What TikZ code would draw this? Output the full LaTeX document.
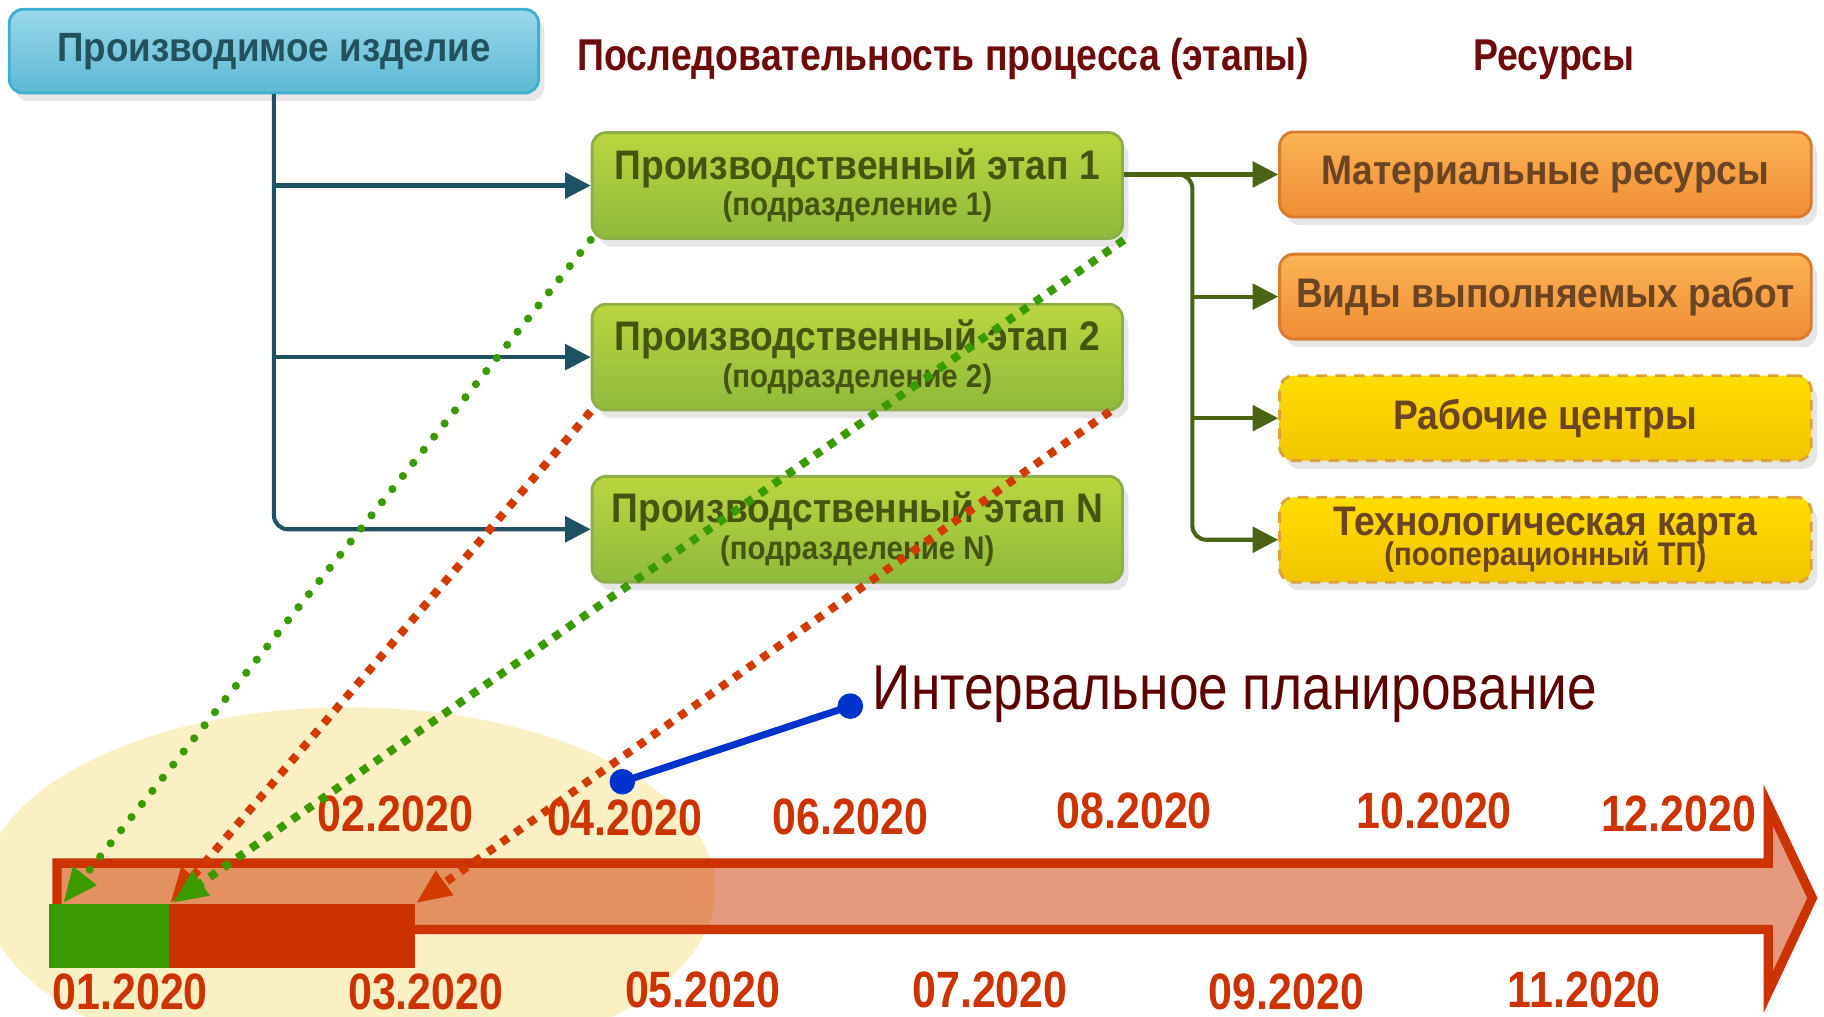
\documentclass[tikz,border=0pt]{standalone}
\usepackage{fontspec}
\setmainfont{Liberation Sans}
\newfontfamily\narrowfont{Liberation Sans}[FakeStretch=0.84]
\newfontfamily\boxfont{Liberation Sans}[FakeStretch=0.9]
\usetikzlibrary{positioning, arrows.meta, shadows}

\definecolor{prodtop}{HTML}{9AD8EA}
\definecolor{prodbot}{HTML}{5DB8D5}
\definecolor{prodline}{HTML}{3FAFCF}
\definecolor{prodtext}{HTML}{23525F}
\definecolor{sttop}{HTML}{BAD63E}
\definecolor{stbot}{HTML}{8FBA3C}
\definecolor{stline}{HTML}{8DAE48}
\definecolor{sttext}{HTML}{45540F}
\definecolor{restop}{HTML}{FBB454}
\definecolor{resbot}{HTML}{F08C34}
\definecolor{resline}{HTML}{D97A2C}
\definecolor{restext}{HTML}{6B4423}
\definecolor{wctop}{HTML}{FFDD00}
\definecolor{wcbot}{HTML}{F2C500}
\definecolor{wcline}{HTML}{D9A23A}
\definecolor{tealline}{HTML}{1E5163}
\definecolor{oliveline}{HTML}{4A6415}
\definecolor{headred}{HTML}{6E0A0A}
\definecolor{datered}{HTML}{CC3300}
\definecolor{planred}{HTML}{5E0000}
\definecolor{ellfill}{HTML}{FBF0C3}
\definecolor{bargreen}{HTML}{3A9A00}
\definecolor{barred}{HTML}{CC3300}
\definecolor{dotred}{HTML}{D23A00}
\definecolor{bluedot}{HTML}{0033CC}

\begin{document}
\begin{tikzpicture}[x=0.1mm, y=-0.1mm,
  box/.style={rounded corners=1.2mm, line width=0.7pt, align=center, inner sep=0pt,
    drop shadow={opacity=0.2, shadow xshift=0.5mm, shadow yshift=-0.7mm}},
  prodbox/.style={box, draw=prodline, top color=prodtop, bottom color=prodbot,
    minimum width=45.5mm, minimum height=7.2mm, text=prodtext,
    font=\boxfont\bfseries\fontsize{10}{11}\selectfont},
  stagebox/.style={box, draw=stline, top color=sttop, bottom color=stbot,
    minimum width=45.6mm, minimum height=9.1mm, text=sttext,
    font=\boxfont\bfseries\fontsize{10.1}{10}\selectfont},
  resbox/.style={box, draw=resline, top color=restop, bottom color=resbot,
    minimum width=45.7mm, minimum height=7.3mm, text=restext,
    font=\boxfont\bfseries\fontsize{10.1}{10}\selectfont},
  wcbox/.style={resbox, draw=wcline, top color=wctop, bottom color=wcbot,
    dash pattern=on 2.6pt off 2pt},
  head/.style={text=headred, font=\narrowfont\bfseries\fontsize{10.9}{12}\selectfont},
  date/.style={text=datered, font=\narrowfont\bfseries\fontsize{12.5}{14}\selectfont},
  bar/.style={inner sep=0pt, minimum height=5.5mm},
  tconn/.style={draw=tealline, line width=1pt, -{Triangle[length=2.2mm, width=2.2mm]}},
  oconn/.style={draw=oliveline, line width=1pt, -{Triangle[length=2.2mm, width=2.2mm]}},
  gdots/.style={draw=bargreen, line width=2pt, line cap=round, dash pattern=on 0pt off 4.1pt,
    -{Triangle[length=3mm, width=2.4mm, fill=bargreen]}},
  gsq/.style={draw=bargreen, line width=2pt, dash pattern=on 2pt off 2.1pt,
    -{Triangle[length=3mm, width=2.4mm]}},
  rsq/.style={draw=dotred, line width=2pt, dash pattern=on 2pt off 2.1pt,
    -{Triangle[length=3mm, width=2.4mm]}},
  bdot/.style={circle, fill=bluedot, inner sep=0pt, minimum size=2.2mm},
]
\clip (0,0) rectangle (1568,874);

% background of the time line
\fill[ellfill] (300,765) ellipse [x radius=31.5mm, y radius=15.7mm];
\draw[draw=barred, line width=0.8mm, fill=barred, fill opacity=0.5, line join=miter]
  (49,742) -- (1520,742) -- (1520,692) -- (1558,772) -- (1520,853) -- (1520,799) -- (49,799) -- cycle;
\node[bar, fill=bargreen, minimum width=10.3mm] (barg) at (93.5,804.5) {};
\node[bar, fill=barred, minimum width=21.2mm] (barr) at (251,804.5) {};

% headers
\node[prodbox] (prod) at (235.5,44) {Производимое изделие};
\node[head] (hstage) at (811,51) {Последовательность процесса (этапы)};
\node[head] (hres) at (1336,51) {Ресурсы};

% stages
\node[stagebox] (st1) at (737,159.5) {Производственный этап 1\\[-1pt]{\fontsize{8}{9}\selectfont (подразделение 1)}};
\node[stagebox] (st2) at (737,307) {Производственный этап 2\\[-1pt]{\fontsize{8}{9}\selectfont (подразделение 2)}};
\node[stagebox] (stN) at (737,455) {Производственный этап N\\[-1pt]{\fontsize{8}{9}\selectfont (подразделение N)}};

% resources
\node[resbox] (res1) at (1328.5,150) {Материальные ресурсы};
\node[resbox] (res2) at (1328.5,255) {Виды выполняемых работ};
\node[wcbox] (res3) at (1328.5,359.5) {Рабочие центры};
\node[wcbox] (res4) at (1328.5,464) {Технологическая карта\\[-2.5pt]{\fontsize{8}{9}\selectfont (пооперационный ТП)}};

\coordinate (br) at (1025,150);
\draw[tconn] (prod.south) |- (st1.west);
\draw[tconn] (prod.south) |- (st2.west);
\draw[tconn, rounded corners=1.2mm] (prod.south) |- (stN.west);
\draw[oconn] (st1.east |- res1.west) -- (res1.west);
\draw[oconn, rounded corners=1.2mm] (st1.east |- res1.west) -- (br) |- (res4.west);
\draw[oconn] (br |- res2.west) -- (res2.west);
\draw[oconn] (br |- res3.west) -- (res3.west);

% dates
\node[date] (d02) at (340,700) {02.2020};
\node[date] (d04) at (537,703) {04.2020};
\node[date] (d06) at (731,702) {06.2020};
\node[date] (d08) at (975,697) {08.2020};
\node[date] (d10) at (1233,697) {10.2020};
\node[date] (d12) at (1443,700) {12.2020};
\node[date] (d01) at (112,853) {01.2020};
\node[date] (d03) at (366,853) {03.2020};
\node[date] (d05) at (604,851) {05.2020};
\node[date] (d07) at (851,851) {07.2020};
\node[date] (d09) at (1106,853) {09.2020};
\node[date] (d11) at (1362,851) {11.2020};

% stages to the time line
\draw[gdots] (st1.south west) -- ([xshift=1.3mm]barg.north west);
\draw[rsq] (st2.south west) -- ([xshift=0.2mm]barr.north west);
\draw[gsq] (st1.south east) -- ([xshift=0.4mm]barr.north west);
\draw[rsq] ([xshift=-1.2mm]st2.south east) -- (barr.north east);

% interval planning
\node[bdot] (pa) at (535,672) {};
\node[bdot] (pb) at (731,607) {};
\draw[bluedot, line width=0.6mm] (pa.center) -- (pb.center);
\node[text=planred, anchor=west, font=\narrowfont\fontsize{15.5}{17}\selectfont] (plan) at (738,597) {Интервальное планирование};
\end{tikzpicture}
\end{document}
